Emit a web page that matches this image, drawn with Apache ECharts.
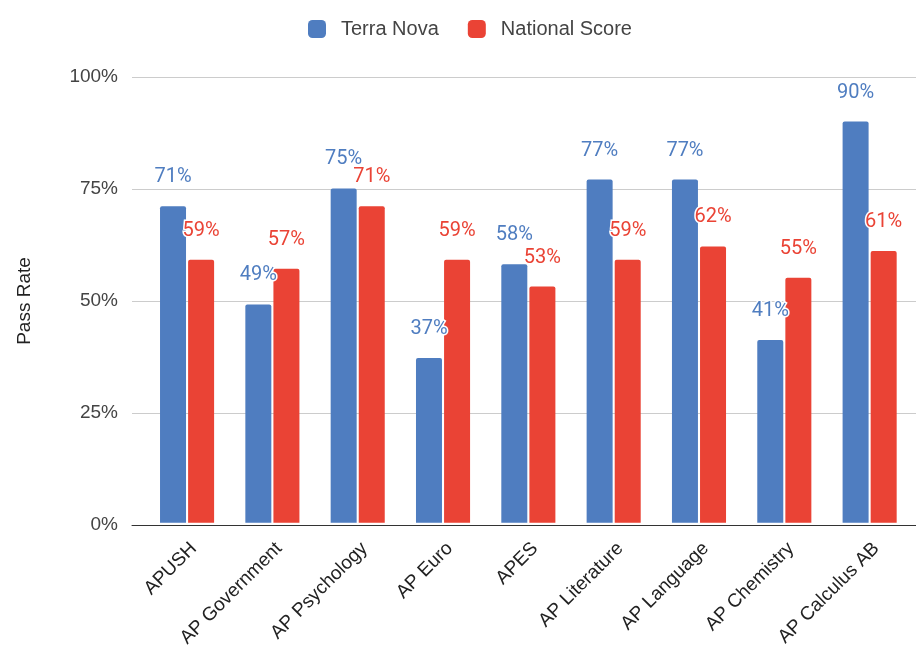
<!DOCTYPE html>
<html>
<head>
<meta charset="utf-8">
<script src="https://cdn.jsdelivr.net/npm/echarts@6/dist/echarts.min.js"></script>
<style>html,body{margin:0;padding:0;background:#fff}#c{width:916px;height:650px}</style>
</head>
<body>
<div id="c"></div>
<script>
var categories = ['APUSH','AP Government','AP Psychology','AP Euro','APES','AP Literature','AP Language','AP Chemistry','AP Calculus AB'];
var terraNova = [71,49,75,37,58,77,77,41,90];
var nationalScore = [59,57,71,59,53,59,62,55,61];
var yTicks = [0,25,50,75,100];
var seriesNames = ['Terra Nova','National Score'];

var BLUE = '#4f7dc0', RED = '#ea4335';
var AX = "'Liberation Sans', Arial, sans-serif";
var chart = echarts.init(document.getElementById('c'));

function lbl(color){
  return {show:true, position:'top', distance:19, formatter:'{c}%', color:color,
    fontFamily:'Roboto', fontSize:20, textBorderColor:'#fff', textBorderWidth:3};
}

chart.setOption({
  animation:false,
  legend:{top:14, left:303, itemWidth:18, itemHeight:18, itemGap:29, icon:'roundRect',
    textStyle:{fontFamily:AX, fontSize:20, color:'#444', padding:[0,0,0,10]},
    data:seriesNames},
  grid:[
    {left:132, right:0, top:77, bottom:125},
    {left:144.4, right:3.7, top:77, bottom:125}
  ],
  xAxis:[
    {gridIndex:0, type:'value', min:0, max:1, axisLabel:{show:false}, axisTick:{show:false},
      splitLine:{show:false}, axisLine:{show:true, lineStyle:{color:'#333', width:1}}, z:5},
    {gridIndex:1, type:'category', data:categories, axisTick:{show:false}, axisLine:{show:false},
      axisLabel:{rotate:45, margin:16, verticalAlign:'top', interval:0, fontFamily:AX, fontSize:19, color:'#222'}}
  ],
  yAxis:[
    {gridIndex:0, type:'value', min:yTicks[0], max:yTicks[yTicks.length-1], interval:25,
      name:'Pass Rate', nameLocation:'middle', nameGap:98, nameRotate:90,
      nameTextStyle:{fontFamily:AX, fontSize:19, color:'#222'},
      axisLine:{show:false}, axisTick:{show:false},
      axisLabel:{formatter:'{value}%', margin:14, fontFamily:AX, fontSize:19, color:'#444'},
      splitLine:{lineStyle:{color:'#cccccc', width:1}}},
    {gridIndex:1, type:'value', min:0, max:100, show:false}
  ],
  series:[
    {name:seriesNames[0], type:'bar', xAxisIndex:1, yAxisIndex:1, data:terraNova,
      barWidth:26, barGap:'8%', itemStyle:{color:BLUE, borderRadius:[2,2,0,0]}, label:lbl(BLUE)},
    {name:seriesNames[1], type:'bar', xAxisIndex:1, yAxisIndex:1, data:nationalScore,
      barWidth:26, barGap:'8%', itemStyle:{color:RED, borderRadius:[2,2,0,0]}, label:lbl(RED)}
  ]
});
</script>
</body>
</html>
